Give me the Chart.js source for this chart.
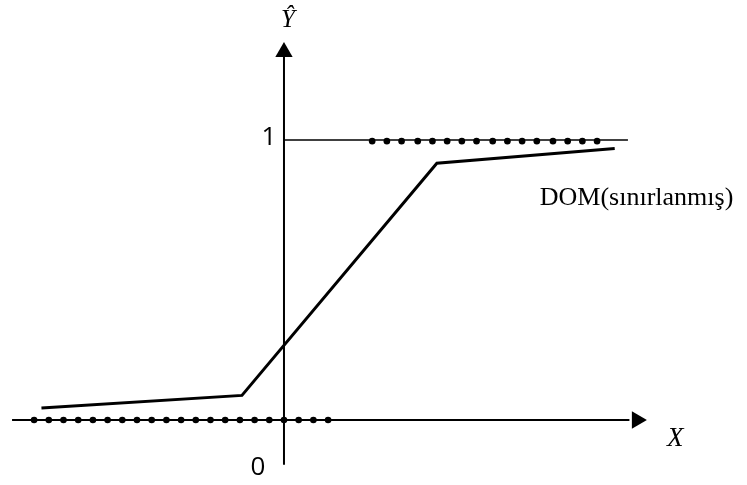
<!DOCTYPE html>
<html>
<head>
<meta charset="utf-8">
<script src="https://cdn.jsdelivr.net/npm/chart.js@4"></script>
<style>
  body { margin: 0; background: #fff; }
</style>
</head>
<body>
<canvas id="grafik" width="747" height="485"></canvas>
<script>
// DOM (sınırlanmış) kırık doğrusu
var domX = [-16.5, -2.86, 10.4, 22.5];
var domY = [0.043, 0.088, 0.917, 0.970];

// gözlem noktaları: Y = 0 (solda) ve Y = 1 (sağda)
var altX = [-17, -16, -15, -14, -13, -12, -11, -10, -9, -8, -7, -6, -5, -4, -3, -2, -1, 0, 1, 2, 3];
var ustX = [6.0, 7.0, 8.0, 9.1, 10.1, 11.1, 12.1, 13.1, 14.2, 15.2, 16.2, 17.2, 18.3, 19.3, 20.3, 21.3];

// eksen etiketleri
var etiketler = [
  { text: '\u0176', x: 0.27, y: 1.404, font: 'italic 25px "Liberation Serif"', align: 'center', base: 'alphabetic' },
  { text: '1', x: -1.02, y: 1.007, font: '26px "Open Sans"', align: 'center', base: 'middle' },
  { text: '0', x: -1.77, y: -0.171, font: '26px "Open Sans"', align: 'center', base: 'middle' },
  { text: 'X', x: 26.05, y: -0.093, font: 'italic 27px "Liberation Serif"', align: 'left', base: 'alphabetic' },
  { text: 'DOM(sınırlanmış)', x: 17.4, y: 0.768, font: '26px "Liberation Serif"', align: 'left', base: 'alphabetic' }
];

function pts(xs, ys) {
  return xs.map(function(x, i) { return { x: x, y: Array.isArray(ys) ? ys[i] : ys }; });
}

var yazilar = {
  id: 'yazilar',
  afterDatasetsDraw: function(chart) {
    var ctx = chart.ctx;
    var sx = chart.scales.x, sy = chart.scales.y;
    ctx.save();
    ctx.fillStyle = '#000';
    etiketler.forEach(function(e) {
      ctx.font = e.font;
      ctx.textAlign = e.align;
      ctx.textBaseline = e.base;
      ctx.fillText(e.text, sx.getPixelForValue(e.x), sy.getPixelForValue(e.y));
    });
    ctx.restore();
  }
};

var cizgi = { showLine: true, pointRadius: 0, borderColor: '#000', fill: false };

new Chart(document.getElementById('grafik').getContext('2d'), {
  type: 'scatter',
  data: {
    datasets: [
      Object.assign({}, cizgi, { data: pts([-18.5, 23.5], 0), borderWidth: 2 }),
      Object.assign({}, cizgi, { data: [{ x: 0, y: -0.16 }, { x: 0, y: 1.3 }], borderWidth: 2 }),
      Object.assign({}, cizgi, { data: pts([0, 23.4], 1), borderWidth: 1.5 }),
      Object.assign({}, cizgi, { data: pts(domX, domY), borderWidth: 3 }),
      {
        data: [{ x: 0, y: 1.314 }],
        pointStyle: 'triangle', pointRadius: 10, rotation: 0,
        backgroundColor: '#000', borderColor: '#000', borderWidth: 0
      },
      {
        data: [{ x: 24.01, y: 0 }],
        pointStyle: 'triangle', pointRadius: 10, rotation: 90,
        backgroundColor: '#000', borderColor: '#000', borderWidth: 0
      },
      { data: pts(altX, 0), pointRadius: 3.3, backgroundColor: '#000', borderWidth: 0 },
      { data: pts(ustX, 0.996), pointRadius: 3.3, backgroundColor: '#000', borderWidth: 0 }
    ]
  },
  options: {
    responsive: false,
    animation: false,
    layout: { padding: 0, autoPadding: false },
    scales: {
      x: { type: 'linear', min: -19.32, max: 31.5, display: false },
      y: { type: 'linear', min: -0.232, max: 1.5, display: false }
    },
    plugins: {
      legend: { display: false },
      tooltip: { enabled: false }
    }
  },
  plugins: [yazilar]
});
</script>
</body>
</html>
